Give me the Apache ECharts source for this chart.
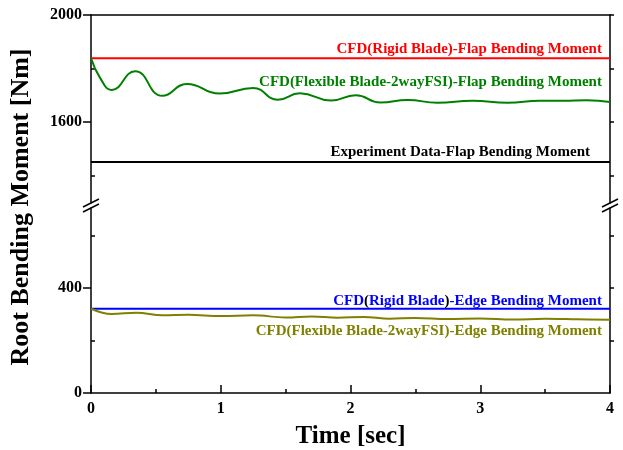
<!DOCTYPE html>
<html><head><meta charset="utf-8">
<script src="https://cdn.jsdelivr.net/npm/echarts@6/dist/echarts.min.js"></script>
<style>html,body{margin:0;padding:0;background:#fff}#c{width:623px;height:450px}</style>
</head><body><div id="c"></div>
<script>
const FONT = "'Liberation Serif','Times New Roman',serif";
// axis ranges and tick labels
const xRange = [0, 4];
const upperRange = [1297, 2000];
const lowerRange = [0, 705];
const upperLabels = [1600, 2000];
const upperMinor = [1400, 1800];
const lowerLabels = [0, 400];
const lowerMinor = [200, 600];
// constant series
const rigidFlap = 1838;
const expFlap = 1450;
const rigidEdge = 321;
// flexible blade flap moment
const flexFlapT = [0,0.07,0.16,0.34,0.55,0.74,0.99,1.25,1.44,1.61,1.85,2.04,2.23,2.44,2.67,2.94,3.21,3.46,3.64,3.82,4.0];
const flexFlapV = [1839,1765,1720,1790,1698,1742,1706,1727,1683,1707,1680,1700,1673,1682,1672,1679,1672,1679,1679,1681,1675];
// flexible blade edge moment
const flexEdgeT = [0,0.08,0.16,0.35,0.55,0.75,1.0,1.25,1.5,1.7,1.9,2.1,2.3,2.5,2.75,3.0,3.25,3.5,3.75,4.0];
const flexEdgeV = [321,307,301,306,296,298,293,296,288,292,287,290,283,286,282,284,280,283,281,279];
// text annotations: [text, x-end, y, grid, color]
const notes = [
  ['CFD(Rigid Blade)-Flap Bending Moment', 3.938, 1873, 0, '#ff0000'],
  ['CFD(Flexible Blade-2wayFSI)-Flap Bending Moment', 3.938, 1750, 0, '#008000'],
  ['Experiment Data-Flap Bending Moment', 3.846, 1488, 0, '#000000'],
  ['CFD(Rigid Blade)-Edge Bending Moment', 3.938, 350, 1, '#0000ff'],
  ['CFD(Flexible Blade-2wayFSI)-Edge Bending Moment', 3.938, 234, 1, '#808000']
];

const zip = (a, b) => a.map((v, i) => [v, b[i]]);
const line = c => ({color: c, width: 1.5});
const base = (extra) => Object.assign({
  type: 'value', splitLine: {show: false},
  axisLine: {show: true, onZero: false, lineStyle: line('#000')},
  axisLabel: {show: false}, axisTick: {show: false}
}, extra);
const labelStyle = {color: '#000', fontFamily: FONT, fontWeight: 'bold', fontSize: 16, formatter: v => String(v)};
const NOTE_FONT = 'bold 15px ' + FONT;

const chart = echarts.init(document.getElementById('c'));
chart.setOption({
  animation: false,
  backgroundColor: '#fff',
  grid: [
    {left: 91, right: 13, top: 15, height: 188},
    {left: 91, right: 13, top: 208, height: 187}
  ],
  xAxis: [
    base({gridIndex: 0, position: 'top', min: xRange[0], max: xRange[1]}),
    base({gridIndex: 1, position: 'bottom', min: xRange[0], max: xRange[1], interval: 1,
      axisTick: {show: true, inside: true, length: 8, lineStyle: line('#000')},
      minorTick: {show: true, splitNumber: 2, length: 4, lineStyle: line('#000')},
      axisLabel: Object.assign({show: true, margin: 8}, labelStyle),
      name: 'Time [sec]', nameLocation: 'middle', nameGap: 31,
      nameTextStyle: {color: '#000', fontFamily: FONT, fontWeight: 'bold', fontSize: 25}})
  ],
  yAxis: [
    base({gridIndex: 0, position: 'left', min: upperRange[0], max: upperRange[1],
      axisTick: {show: true, inside: false, length: 8, customValues: upperLabels, lineStyle: line('#000')},
      axisLabel: Object.assign({show: true, customValues: upperLabels, margin: 9}, labelStyle)}),
    base({gridIndex: 0, position: 'left', min: upperRange[0], max: upperRange[1],
      axisLine: {show: false},
      axisTick: {show: true, inside: true, length: 4, customValues: upperMinor, lineStyle: line('#000')}}),
    base({gridIndex: 0, position: 'right', min: upperRange[0], max: upperRange[1],
      axisTick: {show: true, inside: false, length: 4, customValues: upperMinor.concat(upperLabels), lineStyle: line('#000')}}),
    base({gridIndex: 1, position: 'left', min: lowerRange[0], max: lowerRange[1],
      axisTick: {show: true, inside: false, length: 8, customValues: lowerLabels, lineStyle: line('#000')},
      axisLabel: Object.assign({show: true, customValues: lowerLabels, margin: 9}, labelStyle)}),
    base({gridIndex: 1, position: 'left', min: lowerRange[0], max: lowerRange[1],
      axisLine: {show: false},
      axisTick: {show: true, inside: true, length: 4, customValues: lowerMinor, lineStyle: line('#000')}}),
    base({gridIndex: 1, position: 'right', min: lowerRange[0], max: lowerRange[1],
      axisTick: {show: true, inside: false, length: 4, customValues: lowerMinor.concat([400]), lineStyle: line('#000')}})
  ],
  series: [
    {type: 'line', xAxisIndex: 0, yAxisIndex: 0, showSymbol: false, data: [[xRange[0], rigidFlap], [xRange[1], rigidFlap]], lineStyle: {color: '#ff0000', width: 2}},
    {type: 'line', xAxisIndex: 0, yAxisIndex: 0, showSymbol: false, data: [[xRange[0], expFlap], [xRange[1], expFlap]], lineStyle: {color: '#000', width: 2}},
    {type: 'line', xAxisIndex: 0, yAxisIndex: 0, showSymbol: false, smooth: 0.5, data: zip(flexFlapT, flexFlapV), lineStyle: {color: '#008000', width: 2}},
    {type: 'line', xAxisIndex: 1, yAxisIndex: 3, showSymbol: false, data: [[xRange[0], rigidEdge], [xRange[1], rigidEdge]], lineStyle: {color: '#0000ff', width: 2}},
    {type: 'line', xAxisIndex: 1, yAxisIndex: 3, showSymbol: false, smooth: 0.4, data: zip(flexEdgeT, flexEdgeV), lineStyle: {color: '#808000', width: 2}}
  ]
});

// annotations and break marks positioned via the axes
const g = [];
notes.forEach(n => {
  const p = chart.convertToPixel({xAxisIndex: n[3], yAxisIndex: n[3] === 0 ? 0 : 3}, [n[1], n[2]]);
  let text = n[0], rich = {};
  if (n[4] === '#0000ff') {
    text = '{b|CFD}{k|(}{b|Rigid Blade}{k|)}{b|-Edge Bending Moment}';
    rich = {b: {fill: '#0000ff', font: NOTE_FONT}, k: {fill: '#000', font: NOTE_FONT}};
  }
  g.push({type: 'text', x: p[0], y: p[1], z: 10,
    style: {text: text, rich: rich, fill: n[4], font: NOTE_FONT, align: 'right', verticalAlign: 'middle'}});
});
const bl = chart.convertToPixel({xAxisIndex: 0, yAxisIndex: 0}, [xRange[0], upperRange[0]]);
const br = chart.convertToPixel({xAxisIndex: 0, yAxisIndex: 0}, [xRange[1], upperRange[0]]);
const tl = chart.convertToPixel({xAxisIndex: 1, yAxisIndex: 3}, [xRange[0], lowerRange[1]]);
const tr = chart.convertToPixel({xAxisIndex: 1, yAxisIndex: 3}, [xRange[1], lowerRange[1]]);
[bl, br, tl, tr].forEach(p => {
  g.push({type: 'line', z: 10, shape: {x1: p[0] - 8, y1: p[1] + 4, x2: p[0] + 8, y2: p[1] - 4},
    style: {stroke: '#000', lineWidth: 1.5}});
});
g.push({type: 'text', x: 21, y: 207, rotation: Math.PI / 2, z: 10,
  style: {text: 'Root Bending Moment [Nm]', fill: '#000', font: 'bold 26px ' + FONT, align: 'center', verticalAlign: 'middle'}});
chart.setOption({graphic: g});
</script></body></html>
